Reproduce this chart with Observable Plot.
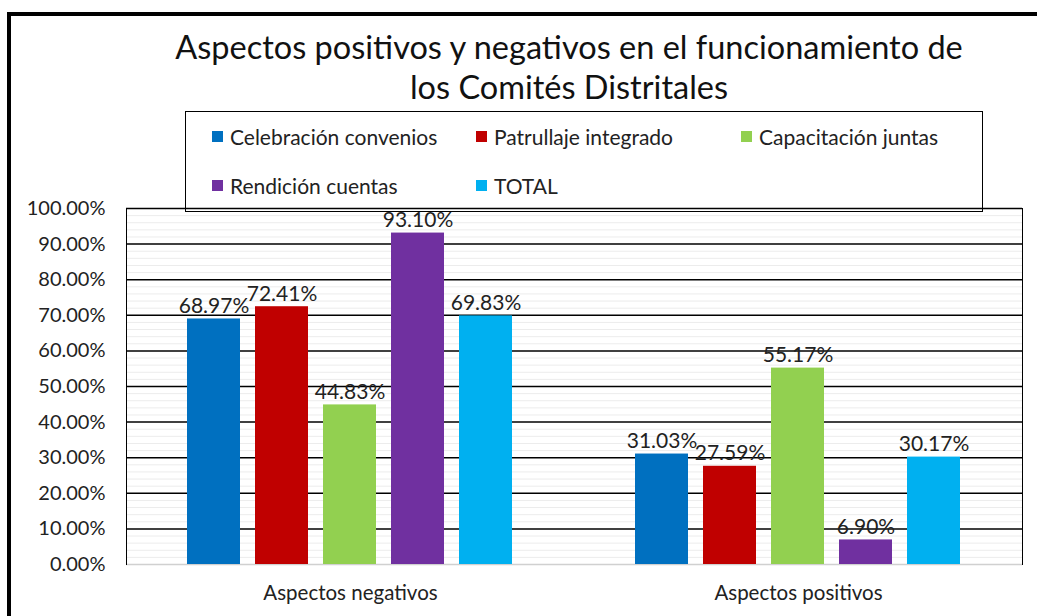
<!DOCTYPE html>
<html>
<head>
<meta charset="utf-8">
<script src="https://cdn.jsdelivr.net/npm/d3@7"></script>
<script src="https://cdn.jsdelivr.net/npm/@observablehq/plot@0.6"></script>
<style>
  html, body { margin: 0; padding: 0; background: #fff; overflow: hidden; }
  #fig { position: relative; width: 1037px; height: 616px; overflow: hidden; font-family: Lato, "Open Sans", sans-serif; }
  #frame { position: absolute; left: 7px; top: 12px; width: 1100px; height: 700px; border-left: 4px solid #000; border-top: 4px solid #000; }
  #title { position: absolute; left: 100px; width: 938px; top: 27px; text-align: center; font-size: 32.5px; line-height: 40px; color: #111; }
  #legend { position: absolute; left: 185px; top: 111px; width: 796px; height: 99px; border: 1px solid #000; z-index: 2; }
  .item { position: absolute; display: flex; align-items: center; font-size: 21px; color: #222; white-space: nowrap; }
  .sw { width: 11px; height: 11px; margin-right: 7px; }
  #chart { position: absolute; left: 0; top: 190px; }
</style>
</head>
<body>
<div id="fig">
  <div id="frame"></div>
  <div id="title">Aspectos positivos y negativos en el funcionamiento de<br>los Comités Distritales</div>
  <div id="legend"></div>
  <div id="chart"></div>
</div>
<script>
const categories = ["Aspectos negativos", "Aspectos positivos"];
const series = ["Celebración convenios", "Patrullaje integrado", "Capacitación juntas", "Rendición cuentas", "TOTAL"];
const colors = ["#0070C0", "#C00000", "#92D050", "#7030A0", "#00B0F0"];
const negativeValues = [0.6897, 0.7241, 0.4483, 0.9310, 0.6983];
const positiveValues = [0.3103, 0.2759, 0.5517, 0.0690, 0.3017];
const yTicks = [0, 0.1, 0.2, 0.3, 0.4, 0.5, 0.6, 0.7, 0.8, 0.9, 1.0];

const data = [];
series.forEach((s, i) => {
  data.push({category: categories[0], series: s, value: negativeValues[i]});
  data.push({category: categories[1], series: s, value: positiveValues[i]});
});

const minorTicks = d3.range(1, 50).map(i => i * 0.02).filter(v => Math.abs(v * 10 - Math.round(v * 10)) > 1e-6);
const pct = v => (v * 100).toFixed(2) + "%";

// legend
const legendPos = [[26, 24], [290, 24], [555, 24], [26, 73], [290, 73]];
const legend = document.getElementById("legend");
series.forEach((s, i) => {
  const it = document.createElement("div");
  it.className = "item";
  it.style.left = legendPos[i][0] + "px";
  it.style.top = (legendPos[i][1] - 12) + "px";
  it.style.height = "24px";
  it.innerHTML = `<span class="sw" style="background:${colors[i]}"></span><span>${s}</span>`;
  legend.appendChild(it);
});

const chart = Plot.plot({
  width: 1037,
  height: 426,
  marginLeft: 125,
  marginRight: 15,
  marginTop: 18,
  marginBottom: 52,
  style: { fontFamily: "Lato, 'Open Sans', sans-serif", fontSize: "20px", color: "#222", background: "transparent" },
  fx: { domain: categories, padding: 0, label: null },
  x: { domain: series, paddingInner: 0.22, paddingOuter: 0.86, axis: null },
  y: { domain: [0, 1], label: null },
  color: { domain: series, range: colors },
  marks: [
    Plot.ruleY(minorTicks, { stroke: "#ececec", strokeWidth: 1 }),
    Plot.ruleY([0], { stroke: "#d0d0d0", strokeWidth: 1.5 }),
    Plot.ruleY(yTicks.slice(1), { stroke: "#000", strokeWidth: 1.5 }),
    Plot.frame({ anchor: "left", facetAnchor: "left", stroke: "#000" }),
    Plot.frame({ anchor: "right", facetAnchor: "right", stroke: "#000" }),
    Plot.barY(data, { fx: "category", x: "series", y: "value", fill: "series" }),
    Plot.text(data, { fx: "category", x: "series", y: "value", text: d => pct(d.value), lineAnchor: "bottom", dy: -6, fontSize: 21, fill: "#222" }),
    Plot.axisY(yTicks, { tickFormat: pct, tickSize: 0, tickPadding: 21, fontSize: 20, label: null }),
    Plot.axisFx({ anchor: "bottom", tickSize: 0, tickPadding: 21, fontSize: 20.5, label: null })
  ]
});
document.getElementById("chart").appendChild(chart);
</script>
</body>
</html>
